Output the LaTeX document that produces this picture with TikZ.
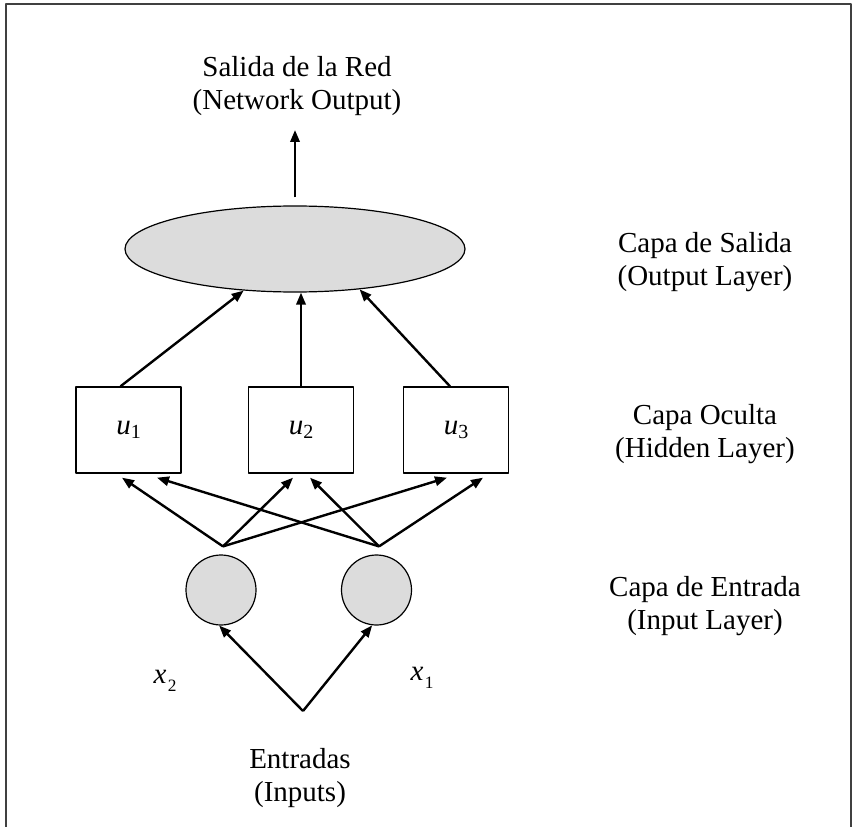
\documentclass[tikz,border=0pt]{standalone}
\usepackage{fontspec}
\setmainfont{Liberation Serif}
\usetikzlibrary{arrows.meta,shapes.geometric,calc}
\definecolor{nodegray}{RGB}{220,220,220}
\newcommand{\hid}[1]{\textit{u}\raisebox{-3pt}{\fontsize{15pt}{15pt}\selectfont #1}}
\newcommand{\inp}[1]{\textit{x}\kern1pt\raisebox{-6pt}{\fontsize{13pt}{13pt}\selectfont #1}}
\begin{document}
\begin{tikzpicture}[x=0.75pt,y=-0.75pt, line join=round,
	font=\fontsize{21.75pt}{24.5pt}\selectfont,
	conn/.style={-{Triangle[length=9pt,width=7pt]}, line width=1.8pt},
	hidbox/.style={draw, line width=1pt, minimum width=78.75pt, minimum height=64.5pt, inner sep=0pt},
	innode/.style={circle, draw, line width=0.9pt, fill=nodegray, minimum size=52.5pt, inner sep=0pt},
	outnode/.style={ellipse, draw, line width=0.9pt, fill=nodegray, minimum width=255pt, minimum height=64.5pt, inner sep=0pt},
	layerlabel/.style={align=center, inner sep=0pt}]
	\useasboundingbox (0,0) rectangle (852,827);
	% marco
	\draw[line width=1.2pt, black!75] (6,827) -- (6,4) -- (851,4) -- (851,827);
	% capas
	\node[layerlabel] (net) at (297,86) {Salida de la Red\\(Network Output)};
	\coordinate (netout) at (295,130);
	\node[outnode] (out) at (295,249) {};
	\node[hidbox] (u1) at (128.5,430) {\hid{1}};
	\node[hidbox] (u2) at (301,430) {\hid{2}};
	\node[hidbox] (u3) at (456,430) {\hid{3}};
	\node[innode] (in2) at (221,590) {};
	\node[innode] (in1) at (376.5,590) {};
	\coordinate (src) at (303,711);
	\node (lx2) at (165,681) {\inp{2}};
	\node (lx1) at (422,678) {\inp{1}};
	\node[layerlabel] (ent) at (300,778) {Entradas\\(Inputs)};
	% rotulos
	\node[layerlabel] (lsal) at (705,262) {Capa de Salida\\(Output Layer)};
	\node[layerlabel] (locu) at (705,434) {Capa Oculta\\(Hidden Layer)};
	\node[layerlabel] (lent) at (705,606) {Capa de Entrada\\(Input Layer)};
	% conexiones
	\draw[conn, shorten <=6pt] (out.north) -- (netout);
	\draw[conn] ($(u1.north)+(-8,0)$) -- (out.-141);
	\draw[conn] (u2.north) -- (u2.north |- out.south);
	\draw[conn] ($(u3.north)+(-6,0)$) -- (out.-32);
	\coordinate (in2top) at ($(in2.north)+(2,-8)$);
	\coordinate (in1top) at ($(in1.north)+(2.5,-8)$);
	\foreach \from/\dst/\dx in {in2top/u1/-6.5, in2top/u2/-8, in2top/u3/-9, in1top/u1/28.5, in1top/u2/9, in1top/u3/27}
		\draw[conn] (\from) -- ($(\dst.south)+(\dx,4)$);
	\draw[conn] (src) -- (in2.-93);
	\draw[conn] (src) -- (in1.-97);
\end{tikzpicture}
\end{document}
